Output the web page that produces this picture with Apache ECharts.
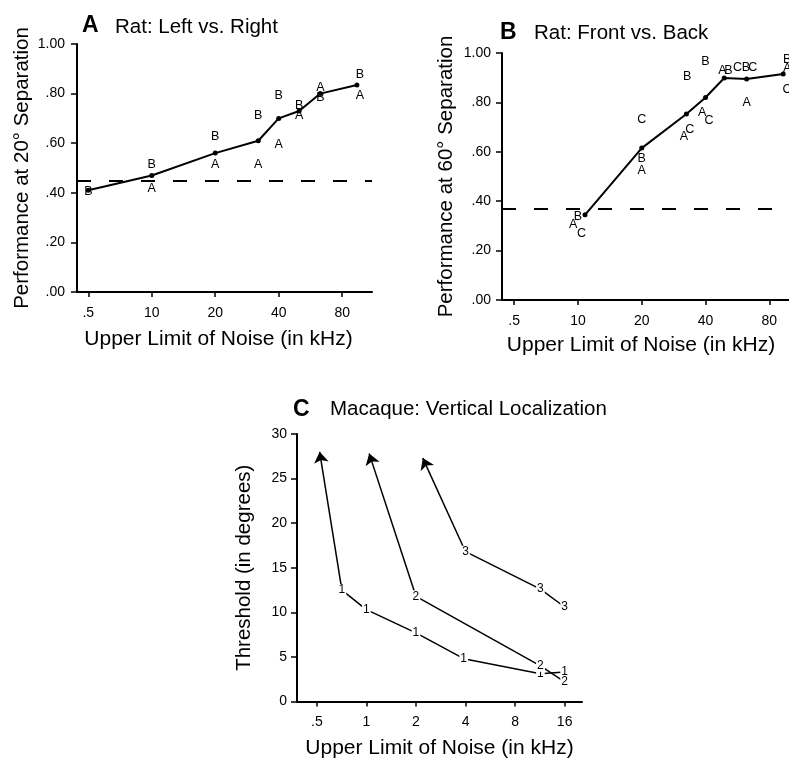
<!DOCTYPE html>
<html>
<head>
<meta charset="utf-8">
<script src="https://cdn.jsdelivr.net/npm/echarts@6/dist/echarts.min.js"></script>
<style>
  html, body { margin: 0; padding: 0; background: #fff; }
  #chart { width: 789px; height: 759px; }
</style>
</head>
<body>
<div id="chart"></div>
<script>
// ---------- shared tick definitions ----------
const freqTicksAB = [5, 10, 20, 40, 80];            // kHz
const freqTickLabelsAB = ['.5', '10', '20', '40', '80'];
const perfTickLabels = ['.00', '.20', '.40', '.60', '.80', '1.00'];
const freqTicksC = [0.5, 1, 2, 4, 8, 16];           // kHz
const freqTickLabelsC = ['.5', '1', '2', '4', '8', '16'];

// ---------- A: rat, left vs. right (20° separation) ----------
const meanFreqA = [5, 10, 20, 32, 40, 50, 63, 94];
const meanPerfA = [0.41, 0.47, 0.56, 0.61, 0.70, 0.73, 0.80, 0.835];
const ratAFreqA = [10, 20, 32, 40, 50, 63, 97];
const ratAPerfA = [0.418, 0.515, 0.515, 0.593, 0.711, 0.824, 0.794];
const ratBFreqA = [5, 10, 20, 32, 40, 50, 63, 97];
const ratBPerfA = [0.407, 0.515, 0.626, 0.711, 0.794, 0.751, 0.783, 0.878];
const chanceA = 0.445;

// ---------- B: rat, front vs. back (60° separation) ----------
const meanFreqB = [10.8, 20, 32.5, 40, 49, 62.5, 93];
const meanPerfB = [0.345, 0.615, 0.753, 0.82, 0.899, 0.895, 0.915];
const ratAFreqB = [9.5, 20, 31.6, 38.6, 48, 62.5, 97];
const ratAPerfB = [0.304, 0.523, 0.662, 0.757, 0.928, 0.80, 0.936];
const ratBFreqB = [10, 20, 32.8, 40, 51.3, 62, 97];
const ratBPerfB = [0.338, 0.574, 0.905, 0.966, 0.928, 0.942, 0.973];
const ratCFreqB = [10.4, 20, 33.7, 41.5, 56.6, 66.8, 97];
const ratCPerfB = [0.27, 0.73, 0.689, 0.726, 0.942, 0.942, 0.851];
const chanceB = 0.37;

// ---------- C: macaque, vertical localization ----------
const monkey1Freq = [0.71, 1.0, 2.0, 3.9, 11.4, 16];
const monkey1Thr  = [12.5, 10.3, 7.7, 4.8, 3.1, 3.3];
const monkey1Tip  = [0.52, 28.0];     // beyond-range arrow (kHz, degrees)
const monkey2Freq = [2.0, 11.4, 16];
const monkey2Thr  = [11.8, 4.0, 2.2];
const monkey2Tip  = [1.04, 27.8];
const monkey3Freq = [4.0, 11.4, 16];
const monkey3Thr  = [16.8, 12.6, 10.6];
const monkey3Tip  = [2.2, 27.3];

// ---------- helpers ----------
const FONT = '"Liberation Sans", Arial, Helvetica, sans-serif';
const lx = f => Math.log2(f);                       // octave scale for frequency
const pts = (fs, vs) => fs.map((f, i) => [lx(f), vs[i]]);

function freqAxis(gridIndex, ticks, labels, min, max, nameGap, namePadRight) {
  const tv = ticks.map(lx);
  return {
    gridIndex, type: 'value', min, max,
    axisLine: { show: true, onZero: false, lineStyle: { color: '#000', width: 2 } },
    axisTick: { show: true, customValues: tv, length: 5, lineStyle: { color: '#000', width: 1.5 } },
    axisLabel: {
      show: true, customValues: tv, margin: 14, color: '#000', fontSize: 14, fontFamily: FONT,
      formatter: v => { const i = tv.findIndex(t => Math.abs(t - v) < 1e-6); return i >= 0 ? labels[i] : ''; }
    },
    splitLine: { show: false },
    name: 'Upper Limit of Noise (in kHz)', nameLocation: 'middle', nameGap,
    nameTextStyle: { color: '#000', fontSize: 21, fontFamily: FONT, padding: [0, namePadRight, 0, 0] }
  };
}

function valueAxis(gridIndex, min, max, interval, formatter, name, nameGap, margin) {
  return {
    gridIndex, type: 'value', min, max, interval,
    axisLine: { show: true, onZero: false, lineStyle: { color: '#000', width: 2 } },
    axisTick: { show: true, length: 6, lineStyle: { color: '#000', width: 1.5 } },
    axisLabel: { margin, color: '#000', fontSize: 14, fontFamily: FONT, formatter },
    splitLine: { show: false },
    name, nameLocation: 'middle', nameGap,
    nameTextStyle: { color: '#000', fontSize: 20.5, fontFamily: FONT }
  };
}

const perfFormatter = v => perfTickLabels[Math.round(v / 0.2)];

function meanLine(idx, fs, vs, chance) {
  return {
    type: 'line', xAxisIndex: idx, yAxisIndex: idx, data: pts(fs, vs),
    symbol: 'circle', symbolSize: 5, showSymbol: true,
    itemStyle: { color: '#000', opacity: 1 }, lineStyle: { color: '#000', width: 2 },
    z: 3,
    markLine: {
      silent: true, symbol: 'none', label: { show: false },
      lineStyle: { color: '#000', width: 2, type: [14, 18] },
      data: [{ yAxis: chance }]
    }
  };
}

function letters(idx, name, fs, vs) {
  return {
    type: 'scatter', name, xAxisIndex: idx, yAxisIndex: idx, data: pts(fs, vs),
    symbolSize: 0, z: 4,
    itemStyle: { color: '#000', opacity: 1 },
    label: {
      show: true, position: 'inside', formatter: '{a}', color: '#000', opacity: 1,
      fontSize: 12.5, fontFamily: FONT, textBorderWidth: 0
    }
  };
}

function monkeyLine(name, fs, vs) {
  return {
    type: 'line', name, xAxisIndex: 2, yAxisIndex: 2, data: pts(fs, vs),
    symbol: 'circle', symbolSize: 0, showSymbol: true,
    itemStyle: { color: '#000', opacity: 1 }, lineStyle: { color: '#000', width: 1.5 },
    label: {
      show: true, position: 'inside', formatter: '{a}', color: '#000', fontSize: 12, fontFamily: FONT,
      backgroundColor: '#fff', padding: [0, 1], textBorderWidth: 0
    }
  };
}

const arrowData = [
  [monkey1Freq[0], monkey1Thr[0], monkey1Tip],
  [monkey2Freq[0], monkey2Thr[0], monkey2Tip],
  [monkey3Freq[0], monkey3Thr[0], monkey3Tip]
].map(([f, v, tip]) => ({ coords: [[lx(f), v], [lx(tip[0]), tip[1]]] }));

const chart = echarts.init(document.getElementById('chart'), null, { renderer: 'canvas' });

chart.setOption({
  animation: false,
  backgroundColor: '#fff',
  grid: [
    { left: 77,  top: 44,  width: 295, height: 248, containLabel: false, outerBoundsMode: 'none' },
    { left: 502, top: 53,  width: 306, height: 247, containLabel: false, outerBoundsMode: 'none' },
    { left: 297, top: 434, width: 285, height: 267.5, containLabel: false, outerBoundsMode: 'none' }
  ],
  xAxis: [
    freqAxis(0, freqTicksAB, freqTickLabelsAB, lx(5) - 0.178, lx(5) + 4.47, 37, 12),
    freqAxis(1, freqTicksAB, freqTickLabelsAB, lx(5) - 0.19, lx(5) + 4.606, 35, 28),
    freqAxis(2, freqTicksC, freqTickLabelsC, lx(0.5) - 0.40, lx(0.5) + 5.35, 36, 0)
  ],
  yAxis: [
    valueAxis(0, 0, 1, 0.2, perfFormatter, 'Performance at 20° Separation', 44, 12),
    valueAxis(1, 0, 1, 0.2, perfFormatter, 'Performance at 60° Separation', 45, 11),
    valueAxis(2, 0, 30, 5, null, 'Threshold (in degrees)', 42, 10)
  ],
  graphic: [
    { type: 'text', left: 82,  top: 14,  style: { text: 'A', font: 'bold 23px ' + FONT, fill: '#000' } },
    { type: 'text', left: 115, top: 17,  style: { text: 'Rat: Left vs. Right', font: '20.5px ' + FONT, fill: '#000' } },
    { type: 'text', left: 500, top: 21,  style: { text: 'B', font: 'bold 23px ' + FONT, fill: '#000' } },
    { type: 'text', left: 534, top: 23,  style: { text: 'Rat: Front vs. Back', font: '20.5px ' + FONT, fill: '#000' } },
    { type: 'text', left: 293, top: 398, style: { text: 'C', font: 'bold 23px ' + FONT, fill: '#000' } },
    { type: 'text', left: 330, top: 399, style: { text: 'Macaque: Vertical Localization', font: '20.5px ' + FONT, fill: '#000' } }
  ],
  series: [
    meanLine(0, meanFreqA, meanPerfA, chanceA),
    letters(0, 'A', ratAFreqA, ratAPerfA),
    letters(0, 'B', ratBFreqA, ratBPerfA),

    meanLine(1, meanFreqB, meanPerfB, chanceB),
    letters(1, 'A', ratAFreqB, ratAPerfB),
    letters(1, 'B', ratBFreqB, ratBPerfB),
    letters(1, 'C', ratCFreqB, ratCPerfB),

    {
      type: 'lines', coordinateSystem: 'cartesian2d', xAxisIndex: 2, yAxisIndex: 2,
      symbol: ['none', 'arrow'], symbolSize: [6, 11],
      lineStyle: { color: '#000', width: 1.5, opacity: 1, curveness: 0 },
      data: arrowData
    },
    monkeyLine('1', monkey1Freq, monkey1Thr),
    monkeyLine('2', monkey2Freq, monkey2Thr),
    monkeyLine('3', monkey3Freq, monkey3Thr)
  ]
});
</script>
</body>
</html>
